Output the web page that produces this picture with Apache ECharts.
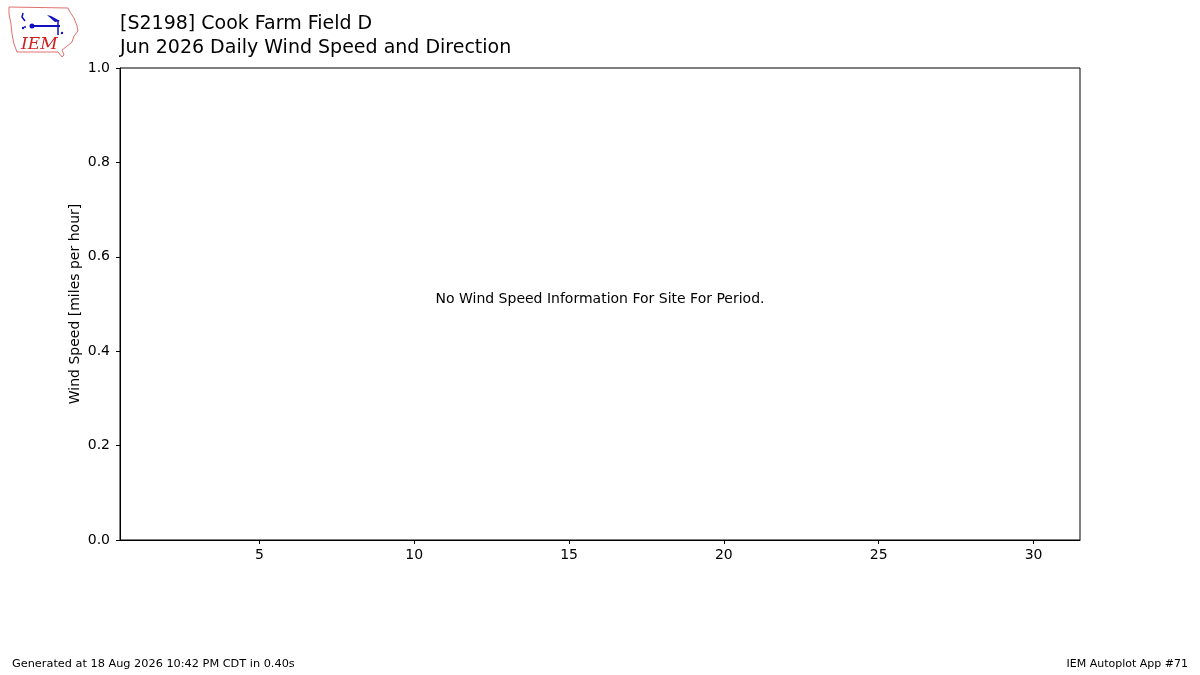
<!DOCTYPE html>
<html>
<head>
<meta charset="utf-8">
<script src="https://cdn.jsdelivr.net/npm/echarts@6/dist/echarts.min.js"></script>
<style>
  html, body { margin: 0; padding: 0; background: #fff; }
  #chart-container { width: 1200px; height: 675px; }
</style>
</head>
<body>
<div id="chart-container"></div>
<script>
var dom = document.getElementById('chart-container');
var myChart = echarts.init(dom, null, { renderer: 'canvas' });

// days of the month with wind data (none for this site / period)
var days = [];
var windSpeed = [];
var dayTicks = [5, 10, 15, 20, 25, 30];
var titleLines = ['[S2198] Cook Farm Field D', 'Jun 2026 Daily Wind Speed and Direction'];
var noDataMsg = 'No Wind Speed Information For Site For Period.';
var footerLeft = 'Generated at 18 Aug 2026 10:42 PM CDT in 0.40s';
var footerRight = 'IEM Autoplot App #71';

var font = 'DejaVu Sans';

// rough Iowa outline for the IEM logo
var iowa = [[9, 7], [68, 8], [70, 12], [74, 18], [77, 26], [78, 31], [74, 36],
  [72, 42], [66, 47], [62, 50], [64, 55], [62, 57], [58, 52], [17, 52],
  [14, 44], [12, 34], [11, 24], [9, 14]];

var option = {
  animation: false,
  textStyle: { fontFamily: font },
  grid: {
    left: 120, top: 68, width: 960, height: 472,
    show: true, borderColor: '#000', borderWidth: 1
  },
  xAxis: {
    type: 'value',
    min: 0.5,
    max: 31.5,
    splitLine: { show: false },
    axisLine: { show: true, lineStyle: { color: '#000', width: 1 } },
    axisTick: { show: true, length: 4, lineStyle: { color: '#000' }, customValues: dayTicks },
    axisLabel: { color: '#000', fontSize: 14, margin: 8, customValues: dayTicks }
  },
  yAxis: {
    type: 'value',
    min: 0,
    max: 1,
    interval: 0.2,
    name: 'Wind Speed [miles per hour]',
    nameLocation: 'middle',
    nameGap: 38,
    nameMoveOverlap: false,
    nameTextStyle: { color: '#000', fontSize: 14, fontFamily: font },
    splitLine: { show: false },
    axisLine: { show: true, lineStyle: { color: '#000', width: 1 } },
    axisTick: { show: true, length: 4, lineStyle: { color: '#000' } },
    axisLabel: {
      color: '#000', fontSize: 14, margin: 10,
      formatter: function (v) { return v.toFixed(1); }
    }
  },
  series: [{
    type: 'bar',
    data: days.map(function (d, i) { return [d, windSpeed[i]]; })
  }],
  graphic: [
    {
      type: 'polygon',
      shape: { points: iowa },
      style: { fill: '#fff', stroke: '#e07070', lineWidth: 1 }
    },
    {
      type: 'group',
      children: [
        { type: 'line', shape: { x1: 32, y1: 26, x2: 60, y2: 26 }, style: { stroke: '#1010c0', lineWidth: 2 } },
        { type: 'circle', shape: { cx: 32, cy: 26, r: 2.5 }, style: { fill: '#1010c0' } },
        { type: 'polyline', shape: { points: [[25, 21], [22, 17], [23, 13]] }, style: { stroke: '#1010c0', lineWidth: 1.5, fill: null } },
        { type: 'polygon', shape: { points: [[47, 15], [51, 16], [60, 21], [55, 22]] }, style: { fill: '#1010c0' } },
        { type: 'line', shape: { x1: 58, y1: 20, x2: 58, y2: 35 }, style: { stroke: '#1010c0', lineWidth: 1.5 } },
        { type: 'circle', shape: { cx: 62, cy: 33, r: 1.2 }, style: { fill: '#1010c0' } },
        { type: 'circle', shape: { cx: 23, cy: 28, r: 1.2 }, style: { fill: '#1010c0' } },
        { type: 'circle', shape: { cx: 25, cy: 27, r: 1 }, style: { fill: '#1010c0' } }
      ]
    },
    {
      type: 'text', left: 21, top: 36,
      style: { text: 'IEM', fill: '#d02020', font: 'italic 17px "DejaVu Serif"' }
    },
    {
      type: 'text', left: 120, top: 15,
      style: { text: titleLines[0], fill: '#000', font: '19px "DejaVu Sans"' }
    },
    {
      type: 'text', left: 120, top: 39,
      style: { text: titleLines[1], fill: '#000', font: '19px "DejaVu Sans"' }
    },
    {
      type: 'text', x: 600, y: 299,
      style: { text: noDataMsg, fill: '#000', font: '14px "DejaVu Sans"', align: 'center', verticalAlign: 'middle' }
    },
    {
      type: 'text', left: 12, top: 659,
      style: { text: footerLeft, fill: '#000', font: '11.3px "DejaVu Sans"' }
    },
    {
      type: 'text', right: 12, top: 659,
      style: { text: footerRight, fill: '#000', font: '11px "DejaVu Sans"' }
    }
  ]
};

myChart.setOption(option);
window.addEventListener('resize', myChart.resize);
</script>
</body>
</html>
